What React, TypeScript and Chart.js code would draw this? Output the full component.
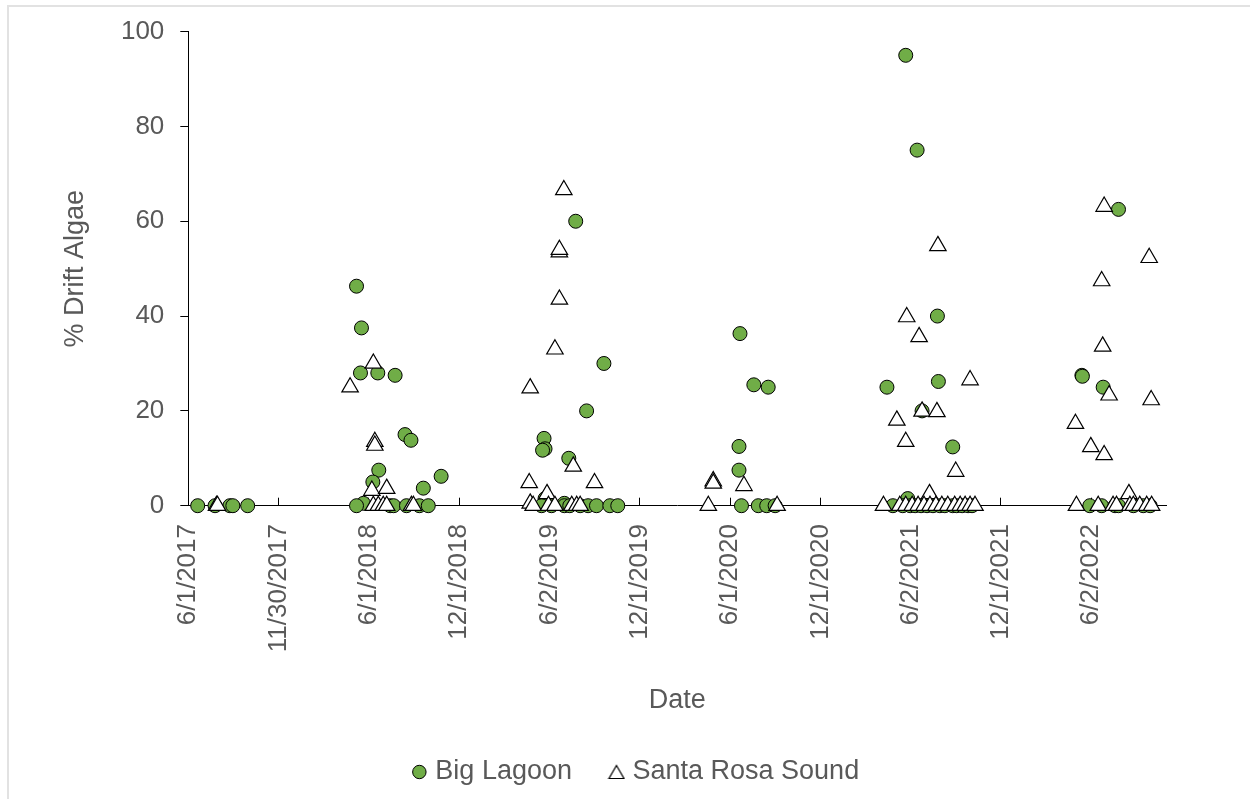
import React, { useEffect, useRef } from "react";
import { Chart, registerables } from "chart.js";

Chart.register(...registerables);

// X axis: Excel serial dates (days). Axis tick positions and their labels.
const xMin = 42887;
const xMax = 44863;
const xTickValues = [42887, 43069.5, 43252, 43434.5, 43617, 43799.5, 43982, 44164.5, 44347, 44529.5, 44712];
const xTickLabels = [
  "6/1/2017", "11/30/2017", "6/1/2018", "12/1/2018", "6/2/2019", "12/1/2019",
  "6/1/2020", "12/1/2020", "6/2/2021", "12/1/2021", "6/2/2022",
];
const yTickStep = 20;

// Big Lagoon (Excel serial date, % drift algae)
const bigLagoonDates = [
  42906, 42941, 42971, 42977, 43007,
  43227, 43237, 43235, 43270, 43305, 43325, 43337, 43272, 43260, 43398, 43362, 43241, 43227, 43295, 43302, 43328, 43354, 43372,
  43670, 43727, 43692, 43606, 43608, 43603, 43656, 43608, 43647, 43601, 43621, 43647, 43658, 43679, 43695, 43712, 43739, 43755,
  44002, 44000, 44000, 44030, 44059, 44005, 44039, 44056, 44073,
  44337, 44360, 44401, 44403, 44299, 44370, 44432, 44341, 44311, 44331, 44346, 44356, 44368, 44380, 44392, 44406, 44416, 44432, 44440, 44451, 44463, 44471,
  44767, 44693, 44694, 44736, 44709, 44733, 44760, 44767, 44797, 44817, 44831,
];
const bigLagoonValues = [
  0, 0, 0, 0, 0,
  46.3, 37.5, 28, 28, 27.5, 15, 13.8, 7.5, 5, 6.2, 3.7, 0.5, 0, 0, 0, 0, 0, 0,
  60, 30, 20, 14.2, 12, 11.7, 10, 1.5, 0.5, 0, 0, 0, 0, 0, 0, 0, 0, 0,
  36.3, 12.5, 7.5, 25.5, 25, 0, 0, 0, 0,
  95, 75, 40, 26.2, 25, 20, 12.4, 1.5, 0, 0, 0, 0, 0, 0, 0, 0, 0, 0, 0, 0, 0, 0,
  62.5, 27.5, 27.3, 25, 0, 0, 0, 0, 0, 0, 0,
];

// Santa Rosa Sound (Excel serial date, % drift algae)
const santaRosaDates = [
  42944, 42946,
  43214, 43261, 43264, 43264, 43258, 43288, 43261, 43271, 43281, 43288, 43338, 43342,
  43646, 43637, 43637, 43637, 43628, 43578, 43665, 43576, 43708, 43612, 43578, 43584, 43615, 43628, 43662, 43672, 43679,
  43948, 43948, 43938, 44010, 44077,
  44339, 44364, 44402, 44467, 44319, 44337, 44370, 44400, 44438, 44385, 44292, 44325, 44337, 44350, 44362, 44374, 44386, 44398, 44410, 44422, 44436, 44447, 44457, 44467, 44477,
  44738, 44829, 44733, 44735, 44748, 44833, 44680, 44711, 44738, 44788, 44682, 44726, 44756, 44763, 44790, 44797, 44810, 44824, 44834,
];
const santaRosaValues = [
  0, 0,
  25, 30, 13.5, 12.7, 3.2, 3.6, 0, 0, 0, 0, 0, 0,
  66.6, 53.5, 54, 43.5, 33, 24.8, 8.3, 4.8, 4.8, 2.5, 0.5, 0, 0, 0, 0, 0, 0,
  5.2, 4.7, 0, 4.2, 0,
  39.8, 35.6, 54.8, 26.5, 18, 13.5, 19.9, 19.8, 7.2, 2.5, 0, 0, 0, 0, 0, 0, 0, 0, 0, 0, 0, 0, 0, 0, 0,
  63.1, 52.3, 47.4, 33.6, 23.3, 22.3, 17.3, 12.4, 10.7, 2.5, 0, 0, 0, 0, 0, 0, 0, 0, 0,
];

const toPoints = (xs: number[], ys: number[]) => xs.map((x, i) => ({ x, y: ys[i] }));

const TEXT = "#595959";
const FONT = "'Liberation Sans', Arial, sans-serif";

// Legend symbol for the triangle series (slightly larger than Chart.js' default legend marker)
function makeLegendTriangle(): HTMLCanvasElement {
  const c = document.createElement("canvas");
  c.width = 18;
  c.height = 16;
  const g = c.getContext("2d")!;
  g.beginPath();
  g.moveTo(9, 1.5);
  g.lineTo(16.5, 14.5);
  g.lineTo(1.5, 14.5);
  g.closePath();
  g.fillStyle = "#ffffff";
  g.fill();
  g.lineWidth = 1.2;
  g.strokeStyle = "#000000";
  g.stroke();
  return c;
}

export default function App() {
  const ref = useRef<HTMLCanvasElement>(null);

  useEffect(() => {
    if (!ref.current) return;
    Chart.defaults.font.family = FONT;
    const legendTriangle = makeLegendTriangle();
    const chart = new Chart(ref.current, {
      type: "scatter",
      data: {
        datasets: [
          {
            label: "Big Lagoon",
            data: toPoints(bigLagoonDates, bigLagoonValues),
            pointStyle: "circle",
            pointRadius: 7,
            pointHoverRadius: 7,
            backgroundColor: "#70AD47",
            borderColor: "#000000",
            borderWidth: 1,
            clip: false,
            order: 1,
          },
          {
            label: "Santa Rosa Sound",
            data: toPoints(santaRosaDates, santaRosaValues),
            pointStyle: "triangle",
            pointRadius: 9.5,
            pointHoverRadius: 9.5,
            backgroundColor: "#FFFFFF",
            borderColor: "#000000",
            borderWidth: 1.2,
            clip: false,
            order: 0,
          },
        ],
      },
      options: {
        responsive: false,
        devicePixelRatio: 1,
        animation: false,
        layout: { padding: { left: 110, right: 84, top: 30.7, bottom: 3.5 } },
        plugins: {
          tooltip: { enabled: false },
          legend: {
            position: "bottom",
            labels: {
              usePointStyle: true,
              boxWidth: 5,
              boxHeight: 9.5,
              padding: 42,
              color: TEXT,
              font: { size: 27, family: FONT },
              sort: (a: any, b: any) => a.datasetIndex - b.datasetIndex,
              generateLabels: (ch: any) => {
                const items = (Chart as any).defaults.plugins.legend.labels.generateLabels(ch);
                return items.map((it: any) =>
                  it.datasetIndex === 1 ? { ...it, pointStyle: legendTriangle } : it
                );
              },
            },
          },
        },
        scales: {
          x: {
            type: "linear",
            min: xMin,
            max: xMax,
            afterBuildTicks: (scale: any) => {
              scale.ticks = xTickValues.map((v) => ({ value: v }));
            },
            afterFit: (scale: any) => {
              scale.height = 210.8;
            },
            ticks: {
              autoSkip: false,
              minRotation: 90,
              maxRotation: 90,
              padding: 26.3,
              color: TEXT,
              font: { size: 26, family: FONT },
              callback: (_v: any, i: number) => xTickLabels[i],
            },
            grid: {
              display: true,
              drawOnChartArea: false,
              drawTicks: true,
              tickLength: -8,
              color: "#000000",
              lineWidth: 1,
            },
            border: { display: true, color: "#000000", width: 1 },
            title: {
              display: true,
              text: "Date",
              color: TEXT,
              font: { size: 27, family: FONT },
              padding: { top: 0, bottom: 0 },
            },
          },
          y: {
            type: "linear",
            min: 0,
            max: 100,
            afterFit: (scale: any) => {
              scale.width = 78.3;
            },
            ticks: {
              stepSize: yTickStep,
              padding: 16,
              color: TEXT,
              font: { size: 26, family: FONT },
            },
            grid: {
              display: true,
              drawOnChartArea: false,
              drawTicks: true,
              tickLength: 8,
              color: "#000000",
              lineWidth: 1,
            },
            border: { display: true, color: "#000000", width: 1 },
            title: {
              display: true,
              text: "% Drift Algae",
              color: TEXT,
              font: { size: 27, family: FONT },
              padding: { top: -50.5, bottom: 0 },
            },
          },
        },
      },
    } as any);
    return () => chart.destroy();
  }, []);

  return (
    <div
      style={{
        position: "absolute",
        left: 0,
        top: 0,
        width: 1250,
        height: 799,
        overflow: "hidden",
        background: "#ffffff",
      }}
    >
      <div
        style={{
          position: "absolute",
          left: 7,
          top: 5,
          right: -10,
          bottom: -10,
          borderTop: "2px solid #e2e2e2",
          borderLeft: "2px solid #e2e2e2",
        }}
      />
      <canvas
        ref={ref}
        width={1250}
        height={799}
        style={{ position: "absolute", left: 0, top: 0, width: 1250, height: 799 }}
      />
    </div>
  );
}
